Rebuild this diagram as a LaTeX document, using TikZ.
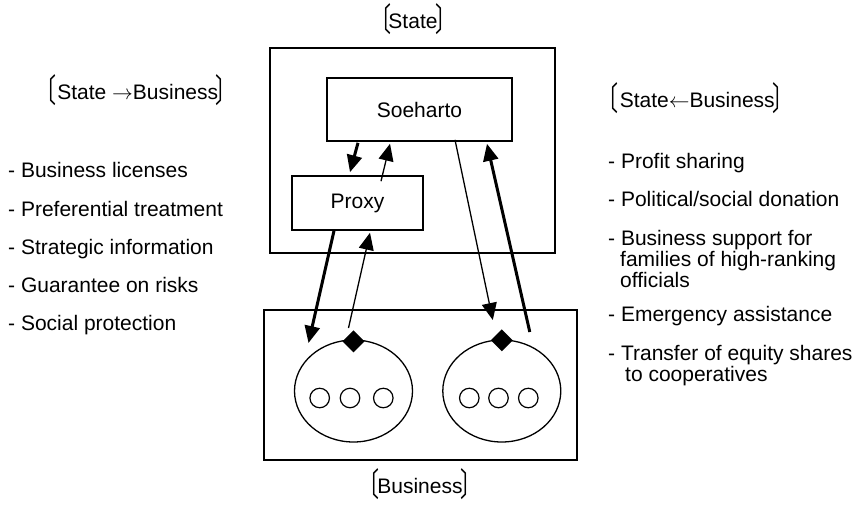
\documentclass[tikz,border=0pt]{standalone}
\usepackage{fontspec}
\usepackage{graphicx}
\setmainfont{Liberation Sans}
\newfontfamily\cjkfont{Noto Sans CJK JP}
\usetikzlibrary{arrows.meta,shapes.geometric,calc}
% tall tortoise-shell brackets around the headings
\newcommand{\lbr}{{\cjkfont\kern-0.45em\raisebox{-3.5pt}{\scalebox{1}[1.55]{〔}}\kern-0.12em}}
\newcommand{\rbr}{{\cjkfont\kern-0.12em\raisebox{-3.5pt}{\scalebox{1}[1.55]{〕}}\kern-0.45em}}
\begin{document}
\begin{tikzpicture}[x=1pt,y=-1pt,
  every node/.style={font=\fontsize{21}{25}\selectfont},
  box/.style={draw, line width=1.6pt, inner sep=0pt},
  firm/.style={draw, ellipse, line width=1.3pt, inner sep=0pt,
    minimum width=118pt, minimum height=102pt},
  member/.style={draw, circle, line width=1.2pt, inner sep=0pt, minimum size=19.5pt},
  head/.style={fill, diamond, inner sep=0pt, minimum width=22pt, minimum height=22pt},
  strong/.style={line width=3pt, -{Triangle[length=17pt,width=15pt]}},
  weak/.style={line width=1.3pt, -{Triangle[length=17pt,width=15pt]}},
  item/.style={anchor=base west, inner sep=0pt},
  title/.style={anchor=base, inner sep=0pt}]
\useasboundingbox (0,0) rectangle (863,507);

% state side
\node[box, minimum width=285pt, minimum height=205pt] (state) at (412.5,150.5) {};
\node[box, minimum width=185pt, minimum height=63pt] (soeharto) at (419.5,109.5) {Soeharto};
\node[box, minimum width=131pt, minimum height=54pt] (proxy) at (357.5,203) {Proxy};

% business side
\node[box, minimum width=313pt, minimum height=150pt] (business) at (420.5,385) {};
\node[firm] (firmL) at (353.5,391) {};
\node[firm] (firmR) at (501.8,391) {};
\node[head] (headL) at ($(firmL.north)+(0,2)$) {};
\node[head] (headR) at ($(firmR.north)+(0,1)$) {};
\node[member] (l1) at (319.7,398) {};
\node[member] (l2) at (350,398) {};
\node[member] (l3) at (383.3,398) {};
\node[member] (r1) at (469.3,398) {};
\node[member] (r2) at (498.5,398) {};
\node[member] (r3) at (528.3,398) {};

% flows between state and business
\draw[strong] ($(soeharto.south)+(-61.5,1)$) -- ($(proxy.north)+(-7.5,-3)$);
\draw[weak] ($(proxy.north)+(23.5,6)$) -- ($(soeharto.south)+(-29.5,2)$);
\draw[strong] ($(proxy.south)+(-23.5,0)$) -- ($(firmL)+(-45,-48)$);
\draw[weak] ($(firmL)+(-5,-63)$) -- ($(proxy.south)+(12.5,2)$);
\draw[weak] ($(soeharto.south)+(35.5,-2)$) -- ($(firmR)+(-9,-71)$);
\draw[strong] ($(firmR)+(28,-59)$) -- ($(soeharto.south)+(67.5,2)$);

% titles
\node[title] (tState) at (413,28) {\lbr State\rbr};
\node[title] (tBusiness) at (420,493) {\lbr Business\rbr};
\node[title] (tLeft) at (136,99) {\lbr\,State $\rightarrow$Business\rbr};
\node[title] (tRight) at (695.5,107) {\lbr\,State$\leftarrow$Business\rbr};

% State -> Business
\node[item] (a1) at (8,177) {- Business licenses};
\node[item] (a2) at (8,216) {- Preferential treatment};
\node[item] (a3) at (8,254) {- Strategic information};
\node[item] (a4) at (8,292) {- Guarantee on risks};
\node[item] (a5) at (8,330) {- Social protection};

% State <- Business
\node[item] (b1) at (608,168) {- Profit sharing};
\node[item] (b2) at (608,206) {- Political/social donation};
\node[item] (b3) at (608,245) {- Business support for};
\node[item] (b3b) at (620,266) {families of high-ranking};
\node[item] (b3c) at (620,287) {officials};
\node[item] (b4) at (608,321) {- Emergency assistance};
\node[item] (b5) at (608,360) {- Transfer of equity shares};
\node[item] (b5b) at (625,381) {to cooperatives};
\end{tikzpicture}
\end{document}
